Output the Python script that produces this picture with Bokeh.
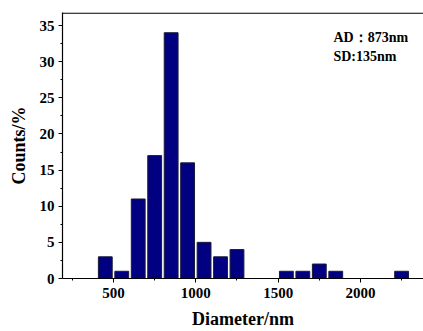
from bokeh.plotting import figure
from bokeh.models import Range1d, FixedTicker, Span
from bokeh.core.properties import value
from bokeh.embed import file_html
from bokeh.resources import INLINE

centers = [450, 550, 650, 750, 850, 950, 1050, 1150, 1250, 1550, 1650, 1750, 1850, 2250]
counts = [3, 1, 11, 17, 34, 16, 5, 3, 4, 1, 1, 2, 1, 1]
x_ticks = [500, 1000, 1500, 2000]
x_minor = [250, 750, 1250, 1750, 2250]
y_ticks = [0, 5, 10, 15, 20, 25, 30, 35]
y_minor = [2.5, 7.5, 12.5, 17.5, 22.5, 27.5, 32.5]
notes = ["AD：873nm", "SD:135nm"]
y_top = 36.8

FONT = "Liberation Serif"

p = figure(width=423, height=331, output_backend="svg", toolbar_location=None,
           x_range=Range1d(190, 2383), y_range=Range1d(0, y_top), min_border=0,
           min_border_left=62, min_border_right=0, min_border_top=12, min_border_bottom=51)
p.background_fill_color = "white"
p.border_fill_color = "white"
p.outline_line_color = None
p.grid.visible = False

p.add_layout(Span(location=y_top - 0.08, dimension="width", line_color="black", line_width=1.2))

p.vbar(x=centers, top=counts, width=84, bottom=0,
       fill_color="#000080", line_color="#1a1a3a", line_width=1)

p.text(x=[1836, 1836], y=[33.4, 30.7], text=notes,
       text_font=value(FONT), text_font_style="bold", text_font_size="14px",
       text_color="black", text_baseline="middle", text_align="left")

for ax in (p.xaxis[0], p.yaxis[0]):
    ax.axis_line_color = "black"
    ax.axis_line_width = 1.2
    ax.major_tick_out = 4
    ax.major_tick_in = 0
    ax.minor_tick_out = 2
    ax.minor_tick_in = 0
    ax.major_label_text_font = FONT
    ax.major_label_text_font_style = "bold"
    ax.major_label_text_font_size = "15px"
    ax.major_label_text_color = "black"
    ax.axis_label_text_font = FONT
    ax.axis_label_text_font_style = "bold"
    ax.axis_label_text_font_size = "18px"
    ax.axis_label_text_color = "black"

p.xaxis.ticker = FixedTicker(ticks=x_ticks, minor_ticks=x_minor)
p.yaxis.ticker = FixedTicker(ticks=y_ticks, minor_ticks=y_minor)
p.xaxis.axis_label = "Diameter/nm"
p.yaxis.axis_label = "Counts/%"
p.xaxis.major_label_standoff = 5
p.yaxis.major_label_standoff = 4
p.xaxis.axis_label_standoff = 8
p.yaxis.axis_label_standoff = 8

open("out.html", "w").write(file_html(p, INLINE))
